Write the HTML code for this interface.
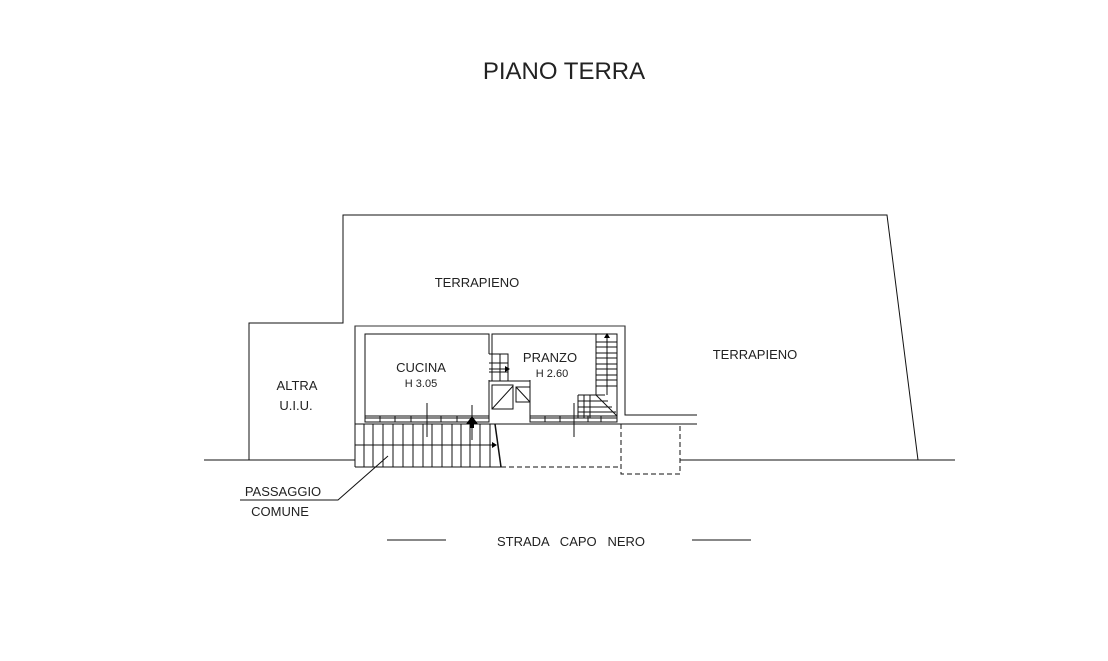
<!DOCTYPE html>
<html><head><meta charset="utf-8"><style>
html,body{margin:0;padding:0;background:#fff;width:1108px;height:661px;overflow:hidden}
svg{display:block}
text{font-family:"Liberation Sans",sans-serif;fill:#222}
</style></head><body>
<svg width="1108" height="661" viewBox="0 0 1108 661" xmlns="http://www.w3.org/2000/svg">
<g stroke="#111" stroke-width="1" fill="none">
<polyline points="249,460 249,323 343,323 343,215 887,215 918,460"/>
<line x1="204" y1="460" x2="355" y2="460"/>
<line x1="680" y1="460" x2="955" y2="460"/>
<polyline points="355,467 355,326 625,326 625,415 697,415"/>
<polyline points="489,418 365,418 365,334 489,334 489,354"/>
<line x1="489" y1="380" x2="489" y2="418"/>
<polyline points="492,354 492,334 617,334 617,418 530,418 530,380"/>
<polyline points="489,354 508,354 508,381 489,381"/>
<line x1="492" y1="354" x2="492" y2="381"/>
<line x1="489" y1="363" x2="508" y2="363"/>
<line x1="489" y1="372" x2="508" y2="372"/>
<line x1="500" y1="354" x2="500" y2="381"/>
<line x1="489" y1="369" x2="509" y2="369"/>
<polyline points="489,381 530,381"/>
<rect x="492" y="385" width="21" height="24"/>
<line x1="492" y1="409" x2="513" y2="386"/>
<rect x="516" y="387" width="14" height="15"/>
<line x1="516" y1="387" x2="530" y2="402"/>
<line x1="596" y1="334" x2="596" y2="395"/>
<line x1="607" y1="336" x2="607" y2="395"/>
<g>
<line x1="596" y1="342" x2="617" y2="342"/><line x1="596" y1="347" x2="617" y2="347"/>
<line x1="596" y1="353" x2="617" y2="353"/><line x1="596" y1="358" x2="617" y2="358"/>
<line x1="596" y1="364" x2="617" y2="364"/><line x1="596" y1="369" x2="617" y2="369"/>
<line x1="596" y1="375" x2="617" y2="375"/><line x1="596" y1="380" x2="617" y2="380"/>
<line x1="596" y1="386" x2="617" y2="386"/><line x1="578" y1="395" x2="605" y2="395"/>
<line x1="578" y1="401" x2="608" y2="401"/><line x1="578" y1="407" x2="612" y2="407"/>
<line x1="578" y1="412" x2="616" y2="412"/>
<line x1="578" y1="395" x2="578" y2="418"/><line x1="584" y1="395" x2="584" y2="418"/>
<line x1="590" y1="395" x2="590" y2="418"/>
<line x1="596" y1="395" x2="617" y2="416"/>
</g>
<rect x="365" y="416" width="124" height="6"/>
<line x1="380" y1="416" x2="380" y2="422"/><line x1="395" y1="416" x2="395" y2="422"/>
<line x1="411" y1="416" x2="411" y2="422"/><line x1="441" y1="416" x2="441" y2="422"/>
<line x1="457" y1="416" x2="457" y2="422"/><line x1="472" y1="416" x2="472" y2="422"/>
<rect x="530" y="416" width="87" height="6"/>
<line x1="545" y1="416" x2="545" y2="422"/><line x1="560" y1="416" x2="560" y2="422"/>
<line x1="588" y1="416" x2="588" y2="422"/><line x1="601" y1="416" x2="601" y2="422"/>
<line x1="355" y1="424" x2="697" y2="424"/>
<line x1="355" y1="467" x2="501" y2="467"/>
<g>
<line x1="364" y1="424" x2="364" y2="467"/><line x1="373" y1="424" x2="373" y2="467"/>
<line x1="383" y1="424" x2="383" y2="467"/><line x1="393" y1="424" x2="393" y2="467"/>
<line x1="403" y1="424" x2="403" y2="467"/><line x1="413" y1="424" x2="413" y2="467"/>
<line x1="423" y1="424" x2="423" y2="467"/><line x1="432" y1="424" x2="432" y2="467"/>
<line x1="442" y1="424" x2="442" y2="467"/><line x1="452" y1="424" x2="452" y2="467"/>
<line x1="461" y1="424" x2="461" y2="467"/><line x1="470" y1="424" x2="470" y2="467"/>
<line x1="480" y1="424" x2="480" y2="467"/><line x1="490" y1="424" x2="490" y2="467"/>
</g>
<line x1="355" y1="445" x2="496" y2="445"/>
<line x1="495" y1="424" x2="501" y2="467" stroke-width="1.5"/>
<line x1="427" y1="403" x2="427" y2="437"/>
<line x1="472" y1="405" x2="472" y2="440"/>
<line x1="574" y1="403" x2="574" y2="437"/>
<g stroke-dasharray="5,3">
<line x1="501" y1="467" x2="621" y2="467"/>
<polyline points="621,424 621,474 680,474 680,424"/>
</g>
<line x1="355" y1="326" x2="625" y2="326" stroke="#333"/>
<polyline points="388,456 338,500 240,500"/>
<line x1="387" y1="540" x2="446" y2="540"/>
<line x1="692" y1="540" x2="751" y2="540"/>
</g>
<polygon points="466,424 472,416 478,424" fill="#000"/>
<rect x="470" y="424" width="4" height="4" fill="#000"/>
<polygon points="497,445 492,442 492,448" fill="#000"/>
<polygon points="510,369 505,366 505,372" fill="#000"/>
<polygon points="607,333 604,338 610,338" fill="#000"/>
<text x="564" y="79" font-size="24" text-anchor="middle" fill="#111">PIANO TERRA</text>
<text x="477" y="287" font-size="13" text-anchor="middle">TERRAPIENO</text>
<text x="755" y="359" font-size="13" text-anchor="middle">TERRAPIENO</text>
<text x="297" y="390" font-size="13" text-anchor="middle">ALTRA</text>
<text x="296" y="410" font-size="13" text-anchor="middle">U.I.U.</text>
<text x="421" y="372" font-size="13" text-anchor="middle">CUCINA</text>
<text x="421" y="387" font-size="11" text-anchor="middle">H 3.05</text>
<text x="550" y="362" font-size="13" text-anchor="middle">PRANZO</text>
<text x="552" y="377" font-size="11" text-anchor="middle">H 2.60</text>
<text x="283" y="496" font-size="13" text-anchor="middle">PASSAGGIO</text>
<text x="280" y="516" font-size="13" text-anchor="middle">COMUNE</text>
<text x="571" y="546" font-size="13" text-anchor="middle" xml:space="preserve">STRADA   CAPO   NERO</text>
</svg>
</body></html>
